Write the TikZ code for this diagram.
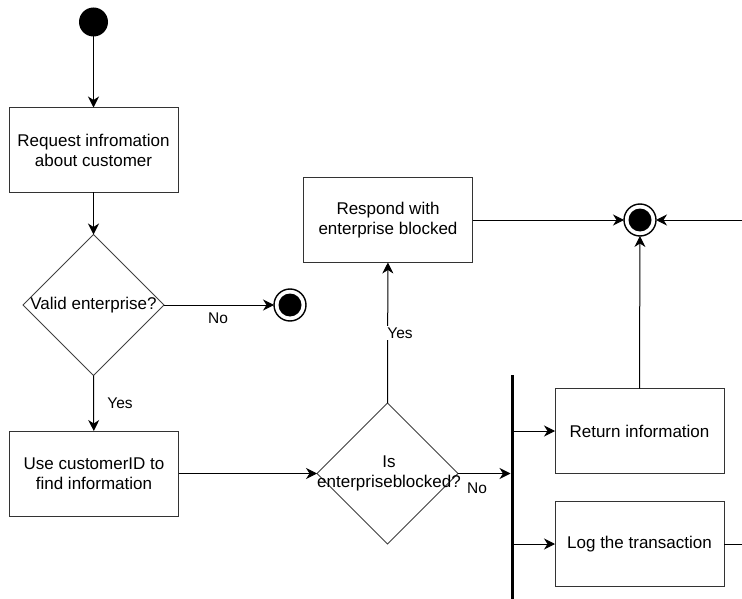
\documentclass[tikz,border=0pt]{standalone}
\usepackage{fontspec}
\setmainfont{Liberation Sans}
\usetikzlibrary{shapes.geometric,arrows.meta}
\begin{document}
\begin{tikzpicture}[x=1pt,y=-1pt,
  every node/.style={inner sep=0pt, outer sep=0pt},
  line/.style={line width=1pt, draw=black},
  flow/.style={line, -{Stealth[length=11pt,width=11pt,inset=3.5pt]}},
  action/.style={draw=black!80, line width=1pt, rectangle, minimum width=169, minimum height=85,
    align=center, font=\fontsize{17}{20}\selectfont},
  decision/.style={draw=black!75, line width=0.8pt, diamond, minimum width=141, minimum height=141},
  dtext/.style={align=center, font=\fontsize{17}{20}\selectfont},
  guard/.style={font=\fontsize{15.5}{18}\selectfont},
  initial/.style={circle, fill=black, minimum size=29},
  final/.style={circle, draw=black, line width=1.4pt, minimum size=32, fill=white,
    path picture={\fill[black] (path picture bounding box.center) circle (11.5pt);}},
  forkbar/.style={fill=black, minimum width=3, minimum height=224}
]
\useasboundingbox (0,0) rectangle (742,599);

% nodes
\node[initial] (start) at (93.5,22) {};
\node[action] (req) at (93.5,150) {Request infromation\\about customer};
\node[decision] (valid) at (93.5,305) {};
\node[dtext] at (valid) {Valid enterprise?};
\node[final] (endA) at (290,305) {};
\node[action] (use) at (94,473.5) {Use customerID to\\find information};
\node[decision] (blocked) at (387.5,473.5) {};
\node[dtext] at (389,473) {Is\\enterpriseblocked?};
\node[action] (respond) at (388,220) {Respond with\\enterprise blocked};
\node[final] (endB) at (640,220) {};
\node[forkbar] (fork) at (512,487) {};
\node[action] (ret) at (639.5,431) {Return information};
\node[action] (log) at (639.5,544) {Log the transaction};
\coordinate (inR) at (742,220);
\coordinate (outR) at (742,544);

% connectors
\draw[flow] (start) -- (req);
\draw[flow] (req) -- (valid);
\draw[flow] (valid.east) -- (endA);
\draw[flow] (valid.south) -- (use);
\draw[flow] (use) -- (blocked.west);
\draw[flow] (blocked.east) -- (blocked.east -| fork.west);
\draw[flow] (blocked.north) -- (respond);
\draw[flow] (respond.east) -- (endB);
\draw[flow] (inR) -- (endB);
\draw[flow] (ret.north) -- (endB);
\draw[flow] (fork.east |- ret.west) -- (ret.west);
\draw[flow] (fork.east |- log.west) -- (log.west);
\draw[line] (log.east) -- (outR);

% guards
\node[guard] at (218,318) {No};
\node[guard] at (120,403) {Yes};
\node[guard] at (477,488) {No};
\node[guard, fill=white, inner sep=2pt] at (400,333) {Yes};
\end{tikzpicture}
\end{document}
